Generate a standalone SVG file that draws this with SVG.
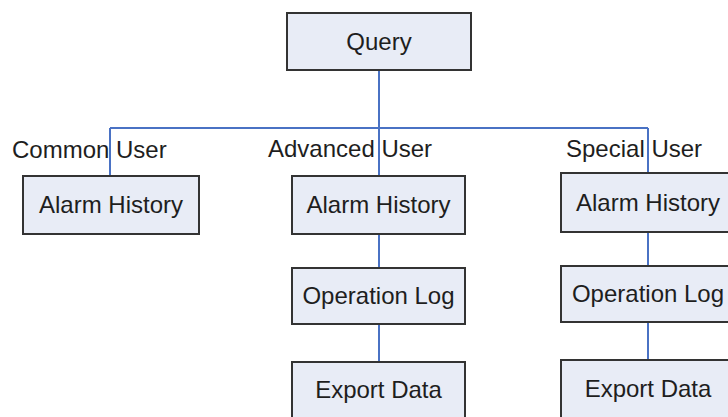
<svg xmlns="http://www.w3.org/2000/svg" width="728" height="417" viewBox="0 0 728 417">
<style>
.box{fill:#e8ecf6;stroke:#333;stroke-width:2}
.t{font-family:"Liberation Sans",Arial,sans-serif;font-size:24px;fill:#1e1e1e}
.c{text-anchor:middle}
.ln{stroke:#4a72c4;stroke-width:2;fill:none}
</style>
<rect width="728" height="417" fill="#fff"/>
<g id="connectors">
<path class="ln" d="M379 70V176M110 128H648M110 128V176M648 128V173M379 234V268M379 324V362M648 232V266M648 322V360"/>
</g>
<g id="labels">
<text class="t" x="12" y="158">Common User</text>
<text class="t" x="268" y="157">Advanced User</text>
<text class="t" x="566" y="157">Special User</text>
</g>
<g id="query"><rect class="box" x="287" y="13" width="184" height="57"/><text class="t c" x="379" y="50">Query</text></g>
<g id="common-alarm"><rect class="box" x="23" y="176" width="176" height="58"/><text class="t c" x="111" y="213">Alarm History</text></g>
<g id="adv-alarm"><rect class="box" x="292" y="176" width="173" height="58"/><text class="t c" x="378.5" y="213">Alarm History</text></g>
<g id="adv-oplog"><rect class="box" x="292" y="268" width="173" height="56"/><text class="t c" x="378.5" y="304">Operation Log</text></g>
<g id="adv-export"><rect class="box" x="292" y="362" width="173" height="60"/><text class="t c" x="378.5" y="398">Export Data</text></g>
<g id="sp-alarm"><rect class="box" x="561" y="173" width="175" height="59"/><text class="t c" x="648" y="211">Alarm History</text></g>
<g id="sp-oplog"><rect class="box" x="561" y="266" width="175" height="56"/><text class="t c" x="648" y="302">Operation Log</text></g>
<g id="sp-export"><rect class="box" x="561" y="360" width="175" height="62"/><text class="t c" x="648" y="397">Export Data</text></g>
</svg>
